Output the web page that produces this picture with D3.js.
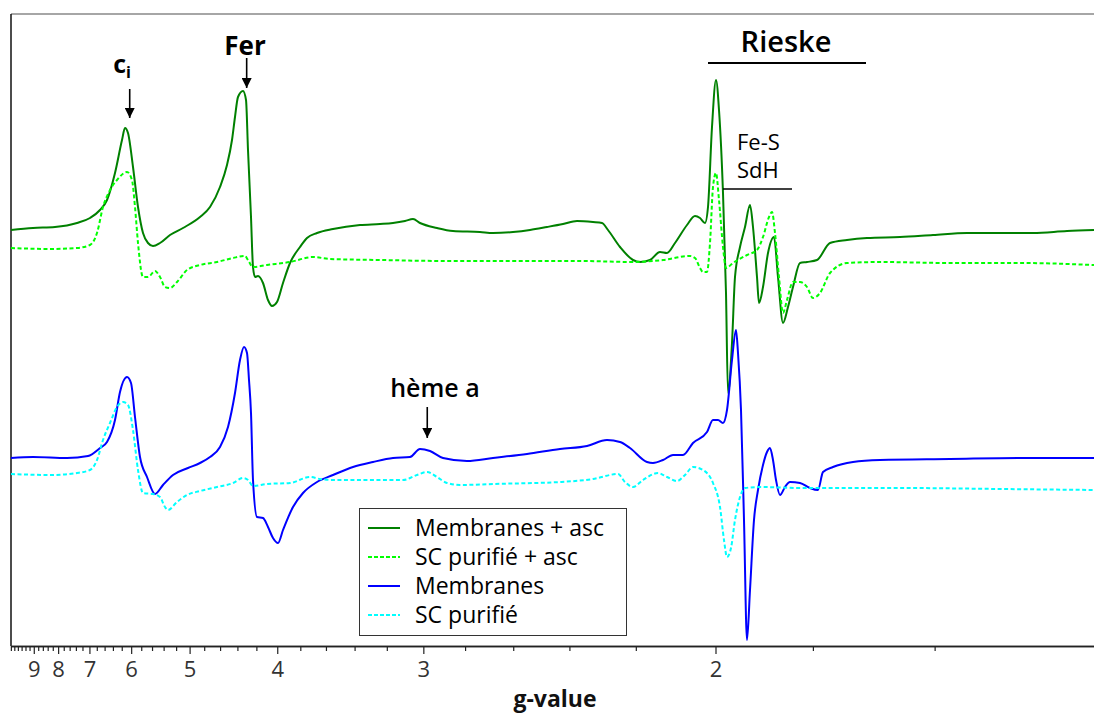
<!DOCTYPE html>
<html><head><meta charset="utf-8">
<script src="https://cdn.jsdelivr.net/npm/d3@7"></script>
<style>
html,body{margin:0;padding:0;background:#fff;}
svg{display:block;font-family:"Open Sans","Noto Sans",sans-serif;}
</style></head>
<body><svg id="c" width="1094" height="717"></svg>
<script>
// g * B product (field units) : B = K / g
const K = 1753;
const fieldDomain = [172, 1255];
const intensityDomain = [0, 632];

const gMajor = [9, 8, 7, 6, 5, 4, 3, 2];
const gMinor = [10.2,10,9.8,9.6,9.4,9.2,8.8,8.6,8.4,8.2,7.8,7.6,7.4,7.2,6.8,6.6,6.4,6.2,5.8,5.6,5.4,5.2,4.8,4.6,4.4,4.2,3.8,3.6,3.4,3.2,2.8,2.6,2.4,2.2,1.8,1.6];

const seriesNames = ["Membranes + asc", "SC purifié + asc", "Membranes", "SC purifié"];
const seriesColors = ["#008000", "#00ff00", "#0000ff", "#00ffff"];
const seriesDashed = [false, true, false, true];

// [field, intensity]
const membranesAsc = [[172,416],[194,418],[216,419],[238,423],[251,428],[261,436],[268,446],[276,473],[283,506],[286,518],[289,513],[294,479],[299,439],[304,413],[309,403],[314,400],[321,403],[331,411],[344,418],[361,429],[371,439],[381,459],[388,481],[393,506],[396,529],[399,549],[404,555],[407,546],[409,496],[412,429],[414,379],[416,369],[419,370],[424,363],[429,346],[433,340],[438,344],[444,363],[451,383],[461,399],[468,408],[478,413],[494,417],[521,421],[541,422],[554,423],[566,425],[574,427],[581,423],[598,418],[614,415],[641,414],[654,413],[674,414],[691,416],[708,419],[724,422],[738,425],[754,424],[763,423],[769,416],[781,399],[794,386],[801,384],[811,386],[821,394],[828,393],[836,403],[848,421],[856,430],[861,428],[866,423],[869,439],[873,519],[877,566],[880,536],[884,453],[887,353],[889,253],[893,303],[896,369],[901,399],[906,419],[911,441],[914,419],[918,369],[920,343],[924,359],[929,393],[935,409],[939,369],[944,323],[949,339],[954,359],[961,383],[968,384],[978,386],[991,403],[1008,406],[1028,408],[1061,409],[1094,411],[1128,413],[1161,413],[1194,413],[1228,415],[1255,416]];

const scAsc = [[172,398],[211,397],[238,398],[251,401],[258,413],[264,439],[271,456],[278,466],[288,474],[293,466],[296,439],[299,403],[304,369],[309,369],[316,375],[321,369],[326,359],[331,358],[338,364],[348,376],[361,381],[378,384],[394,388],[406,390],[409,386],[414,379],[428,381],[451,384],[474,389],[491,387],[541,386],[608,385],[674,385],[741,385],[794,384],[824,386],[851,390],[856,388],[861,378],[864,374],[868,374],[871,403],[874,459],[877,473],[880,446],[884,399],[887,378],[894,383],[908,391],[918,396],[924,409],[930,429],[933,434],[936,413],[940,369],[944,333],[948,346],[954,364],[961,364],[968,359],[974,348],[981,353],[991,373],[1008,383],[1041,384],[1111,383],[1181,383],[1255,381]];

const membranes = [[172,188],[194,189],[228,188],[249,190],[261,198],[268,204],[276,226],[281,254],[288,269],[292,263],[296,229],[301,189],[308,169],[316,152],[324,161],[334,171],[349,178],[361,183],[371,189],[381,199],[389,219],[396,253],[401,286],[405,299],[408,293],[410,266],[412,233],[414,166],[418,129],[424,128],[429,119],[434,108],[439,103],[444,116],[454,139],[464,153],[478,164],[494,171],[514,179],[534,184],[554,188],[571,189],[581,197],[591,195],[604,188],[628,185],[654,188],[688,192],[721,197],[748,200],[768,206],[781,204],[791,198],[808,184],[814,183],[824,186],[834,191],[844,191],[854,203],[868,214],[874,226],[879,226],[884,223],[888,236],[893,286],[897,316],[899,293],[902,236],[905,126],[908,6],[911,56],[915,126],[919,156],[924,181],[928,194],[931,198],[934,186],[937,166],[941,151],[946,159],[951,164],[961,163],[971,158],[979,156],[984,174],[994,179],[1014,184],[1041,186],[1111,187],[1181,188],[1255,188]];

const scPur = [[172,172],[211,171],[238,173],[251,176],[258,186],[264,206],[271,223],[278,239],[284,244],[289,241],[294,216],[299,176],[304,153],[314,152],[321,149],[326,139],[329,136],[338,144],[348,151],[361,155],[378,159],[394,163],[404,168],[409,166],[414,160],[428,162],[451,163],[471,169],[481,167],[494,166],[548,166],[564,166],[578,171],[588,174],[598,169],[608,163],[621,161],[654,162],[721,164],[754,167],[779,172],[786,164],[794,159],[804,166],[819,173],[828,169],[838,165],[846,171],[854,179],[864,176],[874,163],[881,139],[885,106],[888,89],[892,98],[896,126],[901,149],[906,158],[921,159],[961,158],[1061,158],[1161,157],[1255,156]];

const allSeries = [membranesAsc, scAsc, membranes, scPur];

const svg = d3.select("#c");
const x = d3.scaleLinear().domain(fieldDomain).range([11, 1094]);
const y = d3.scaleLinear().domain(intensityDomain).range([646, 14]);

// frame
svg.append("line").attr("x1",11).attr("x2",1094).attr("y1",14).attr("y2",14).attr("stroke","#888").attr("stroke-width",1.5);
svg.append("line").attr("x1",11).attr("x2",11).attr("y1",14).attr("y2",646).attr("stroke","#111").attr("stroke-width",1.5);

// axes
const minorAxis = d3.axisBottom(x).tickValues(gMinor.map(g=>K/g)).tickSize(5).tickSizeOuter(0).tickFormat("");
const majorAxis = d3.axisBottom(x).tickValues(gMajor.map(g=>K/g)).tickSize(8).tickSizeOuter(0).tickPadding(7).tickFormat(d=>String(Math.round(K/d)));
const gm = svg.append("g").attr("transform","translate(0,646)").call(minorAxis);
const gM = svg.append("g").attr("transform","translate(0,646)").call(majorAxis);
[gm,gM].forEach(g=>{g.select(".domain").attr("stroke","#222").attr("stroke-width",1.5);g.selectAll(".tick line").attr("stroke","#222").attr("stroke-width",1.2);});
gM.selectAll(".tick text").attr("fill","#333").style("font-size","22px").style("font-weight","500").style("font-family","'Open Sans',sans-serif");
svg.append("text").attr("x",555).attr("y",707).attr("text-anchor","middle").style("font-size","23px").style("font-weight","bold").attr("fill","#111").text("g-value");

// lines
const line = d3.line().x(d=>x(d[0])).y(d=>y(d[1])).curve(d3.curveMonotoneX);
allSeries.forEach((s,i)=>{
  svg.append("path").datum(s).attr("d",line).attr("fill","none")
    .attr("stroke",seriesColors[i]).attr("stroke-width",2)
    .attr("stroke-dasharray",seriesDashed[i]?"4,2.5":null);
});

// annotations
const defs = svg.append("defs");
defs.append("marker").attr("id","ah").attr("viewBox","0 0 10 10").attr("refX",10).attr("refY",5)
  .attr("markerWidth",10).attr("markerHeight",10).attr("markerUnits","userSpaceOnUse").attr("orient","auto")
  .append("path").attr("d","M0,0 L10,5 L0,10 Z").attr("fill","#000");
function arrow(gx, y1, y2){
  svg.append("line").attr("x1",x(K/gx)).attr("x2",x(K/gx)).attr("y1",y1).attr("y2",y2)
    .attr("stroke","#000").attr("stroke-width",1.6).attr("marker-end","url(#ah)");
}
arrow(6.03, 89, 118);
arrow(4.3, 58, 88);
arrow(2.98, 407, 438);

const ci = svg.append("text").attr("x",122).attr("y",73).attr("text-anchor","middle").style("font-weight","bold").attr("fill","#000");
ci.append("tspan").style("font-size","25px").text("c");
ci.append("tspan").style("font-size","16px").attr("dy",5).text("i");
svg.append("text").attr("x",245).attr("y",55).attr("text-anchor","middle").style("font-size","26px").style("font-weight","bold").text("Fer");
svg.append("text").attr("x",786).attr("y",52).attr("text-anchor","middle").style("font-size","29px").style("font-weight","600").text("Rieske");
svg.append("line").attr("x1",708).attr("x2",866).attr("y1",63).attr("y2",63).attr("stroke","#000").attr("stroke-width",2);
svg.append("text").attr("x",737).attr("y",150).style("font-size","22px").style("font-weight","500").text("Fe-S");
svg.append("text").attr("x",737).attr("y",178).style("font-size","22px").style("font-weight","500").text("SdH");
svg.append("line").attr("x1",723).attr("x2",792).attr("y1",189).attr("y2",189).attr("stroke","#000").attr("stroke-width",1.6);
svg.append("text").attr("x",435).attr("y",397).attr("text-anchor","middle").style("font-size","25px").style("font-weight","600").text("hème a");

// legend
const lg = svg.append("g");
lg.append("rect").attr("x",359.5).attr("y",508.5).attr("width",267).attr("height",127).attr("fill","#fff").attr("stroke","#333").attr("stroke-width",1);
seriesNames.forEach((n,i)=>{
  const ry = 528 + i*29;
  lg.append("line").attr("x1",368).attr("x2",400).attr("y1",ry).attr("y2",ry).attr("stroke",seriesColors[i]).attr("stroke-width",2).attr("stroke-dasharray",seriesDashed[i]?"4,2":null);
  lg.append("text").attr("x",415).attr("y",ry+8).style("font-size","23px").attr("fill","#000").text(n);
});
</script></body></html>
